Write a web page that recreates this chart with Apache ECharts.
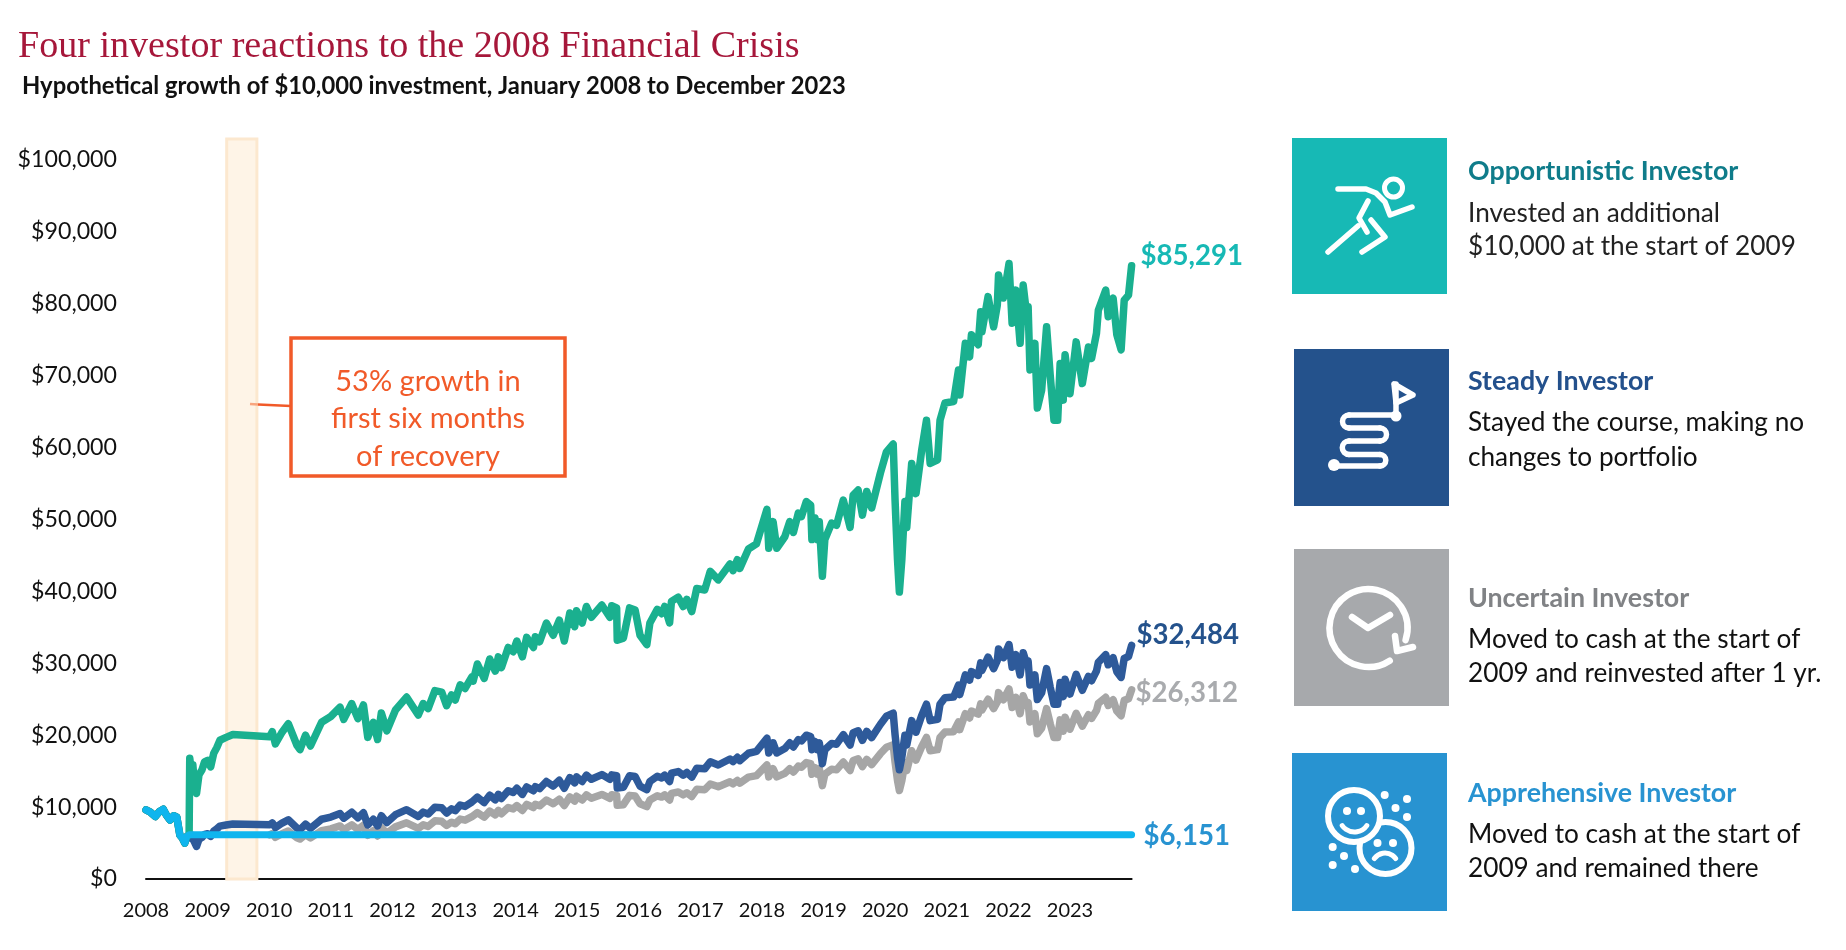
<!DOCTYPE html>
<html lang="en">
<head>
    <meta charset="UTF-8">
    <title>Four investor reactions to the 2008 Financial Crisis</title>
    <script src="https://cdn.jsdelivr.net/npm/echarts@6/dist/echarts.min.js"></script>
    <style>
        html, body {
            margin: 0;
            height: 100%;
            background: #fff;
        }
    </style>
</head>
<body>
<div id="main" style="width: 1846px;height: 950px"></div>
<script>
    //sample dates as decimal years, shared by the three invested series
    var dates = [
        2008.00, 2008.07, 2008.15, 2008.22, 2008.28, 2008.33, 2008.39, 2008.45, 2008.50, 2008.55, 2008.59, 2008.63, 2008.66, 2008.70,
        2008.71, 2008.74, 2008.76, 2008.78, 2008.82, 2008.86, 2008.91, 2008.95, 2009.00, 2009.05, 2009.10, 2009.15, 2009.20, 2009.30, 2009.41,
        2010.01, 2010.05, 2010.10, 2010.20, 2010.31, 2010.45, 2010.50, 2010.59, 2010.67, 2010.85,
        2011.00, 2011.15, 2011.21, 2011.34, 2011.44, 2011.53, 2011.60, 2011.69, 2011.76, 2011.82, 2011.91,
        2012.05, 2012.23, 2012.42, 2012.50, 2012.58, 2012.69, 2012.80, 2012.88, 2012.96,
        2013.02, 2013.10, 2013.18, 2013.29, 2013.31, 2013.38, 2013.49, 2013.58, 2013.67, 2013.72, 2013.77, 2013.88, 2013.96,
        2014.02, 2014.11, 2014.18, 2014.29, 2014.32, 2014.39, 2014.50, 2014.61, 2014.71, 2014.79, 2014.88, 2014.96, 2014.99,
        2015.08, 2015.15, 2015.23, 2015.40, 2015.53, 2015.56, 2015.64, 2015.65, 2015.75, 2015.85, 2015.94,
        2016.02, 2016.13, 2016.18, 2016.30, 2016.37, 2016.42, 2016.50, 2016.53, 2016.64, 2016.72, 2016.78, 2016.86, 2016.94,
        2017.07, 2017.16, 2017.29, 2017.48, 2017.53, 2017.60, 2017.64, 2017.78, 2017.91,
        2018.08, 2018.11, 2018.18, 2018.24, 2018.37, 2018.45, 2018.51, 2018.59, 2018.64, 2018.72, 2018.79, 2018.81, 2018.86, 2018.90, 2018.93, 2018.98,
        2019.02, 2019.13, 2019.21, 2019.32, 2019.43, 2019.48, 2019.56, 2019.63, 2019.70, 2019.78, 2019.92,
        2020.02, 2020.13, 2020.16, 2020.20, 2020.23, 2020.27, 2020.32, 2020.35, 2020.43, 2020.50, 2020.59, 2020.67, 2020.73, 2020.85, 2020.89, 2020.97,
        2021.11, 2021.19, 2021.21, 2021.30, 2021.37, 2021.40, 2021.51, 2021.55, 2021.57, 2021.67, 2021.76, 2021.82, 2021.84, 2021.92,
        2022.01, 2022.06, 2022.12, 2022.19, 2022.24, 2022.30, 2022.32, 2022.35, 2022.43, 2022.47, 2022.54, 2022.62, 2022.68, 2022.74, 2022.80, 2022.84, 2022.89, 2022.92,
        2023.00, 2023.10, 2023.20, 2023.30, 2023.35, 2023.43, 2023.46, 2023.58, 2023.62, 2023.70, 2023.76, 2023.83, 2023.88, 2023.95, 2024.00
    ];

    var opportunistic = [
        9600, 9300, 8700, 9400, 9700, 8900, 8200, 8800, 8600, 6100, 5700, 5000, 5900, 6151,
        16800, 14800, 15900, 13800, 11900, 14500, 15200, 16300, 16500, 15600, 17500, 18300, 19300, 19700, 20100,
        19800, 20500, 18800, 20300, 21600, 18600, 18000, 20000, 18500, 21800,
        22600, 23900, 22200, 24400, 22300, 24200, 19700, 21800, 19400, 23100, 20600,
        23500, 25300, 22800, 24400, 23700, 26200, 26000, 24100, 25600,
        24900, 27000, 26500, 28100, 27500, 29900, 27900, 30600, 28900, 30900, 29400, 32200, 31600,
        33100, 30900, 33600, 32200, 33700, 33000, 35600, 33900, 36000, 33100, 37000, 35100, 37300,
        35600, 37900, 36400, 38100, 36400, 38000, 37700, 33200, 33500, 37700, 37400,
        33900, 32600, 35600, 37500, 36900, 37900, 35600, 38600, 39200, 37900, 38900, 37200, 40400,
        40200, 42800, 41600, 43800, 42900, 44400, 43200, 45900, 46600,
        51400, 46000, 49700, 46000, 47600, 49700, 48200, 50900, 50400, 52500, 52000, 47200, 50200, 47200, 49700, 42100,
        47200, 49500, 49200, 52700, 48900, 53400, 54100, 50600, 53900, 51600, 56400,
        59400, 60500, 52700, 44400, 39900, 44400, 52500, 48900, 57800, 53600, 59500, 63800, 57800, 58300, 63800, 66200,
        66400, 70800, 67300, 74500, 72600, 75700, 74300, 78900, 76100, 81000, 76800, 79800, 84000, 80800,
        85600, 77300, 81900, 74500, 82600, 78200, 79600, 70800, 74500, 65500, 68000, 76800, 69900, 63800, 63800, 71700, 66600, 72900,
        67500, 74700, 68900, 74000, 72400, 75900, 79100, 81900, 78200, 80800, 75700, 73600, 80500, 81200, 85291
    ];

    var steady = [
        9600, 9300, 8700, 9400, 9700, 8900, 8200, 8800, 8600, 6100, 5700, 5000, 5900, 6151,
        6400, 5640, 6060, 5260, 4530, 5520, 5790, 6210, 6290, 5940, 6670, 6970, 7350, 7510, 7660,
        7540, 7810, 7160, 7730, 8230, 7090, 6860, 7620, 7050, 8310,
        8610, 9110, 8460, 9300, 8500, 9220, 7510, 8310, 7390, 8800, 7850,
        8950, 9640, 8690, 9300, 9030, 9980, 9910, 9180, 9750,
        9490, 10290, 10100, 10710, 10480, 11390, 10630, 11660, 11010, 11770, 11200, 12270, 12040,
        12610, 11770, 12800, 12270, 12840, 12570, 13560, 12920, 13720, 12610, 14100, 13370, 14210,
        13560, 14440, 13870, 14520, 13870, 14480, 14360, 12650, 12760, 14360, 14250,
        12920, 12420, 13560, 14290, 14060, 14440, 13560, 14710, 14940, 14440, 14820, 14170, 15390,
        15320, 16310, 15850, 16690, 16340, 16920, 16460, 17490, 17750,
        19580, 17530, 18940, 17530, 18140, 18940, 18360, 19390, 19200, 20000, 19810, 17980, 19130, 17980, 18940, 16040,
        17980, 18860, 18750, 20080, 18630, 20350, 20610, 19280, 20540, 19660, 21490,
        22630, 23050, 20080, 16920, 15200, 16920, 20000, 18630, 22020, 20420, 22670, 24310, 22020, 22210, 24310, 25220,
        25300, 26970, 25640, 28380, 27660, 28840, 28310, 30060, 28990, 30860, 29260, 30400, 32000, 30780,
        32610, 29450, 31200, 28380, 31470, 29790, 30330, 26970, 28380, 24960, 25910, 29260, 26630, 24310, 24310, 27320, 25370, 27770,
        25720, 28460, 26250, 28190, 27580, 28920, 30140, 31200, 29790, 30780, 28840, 28040, 30670, 30940, 32484
    ];

    //the uncertain investor sits in cash until the 2010.01 sample
    var uncertainStart = 2010.01;
    var uncertain = [
        6151, 6330, 5800, 6260, 6670, 5740, 5560, 6170, 5710, 6730,
        6970, 7380, 6850, 7530, 6880, 7470, 6080, 6730, 5990, 7130, 6360,
        7250, 7810, 7040, 7530, 7310, 8090, 8020, 7440, 7900,
        7680, 8330, 8180, 8670, 8490, 9230, 8610, 9440, 8920, 9540, 9070, 9940, 9750,
        10210, 9540, 10370, 9940, 10400, 10180, 10990, 10460, 11110, 10210, 11420, 10830, 11510,
        10990, 11700, 11230, 11760, 11230, 11730, 11630, 10250, 10340, 11630, 11540,
        10460, 10060, 10990, 11570, 11390, 11700, 10990, 11910, 12100, 11700, 12000, 11480, 12470,
        12410, 13210, 12840, 13520, 13240, 13700, 13330, 14160, 14380,
        15860, 14200, 15340, 14200, 14690, 15340, 14870, 15710, 15550, 16200, 16050, 14570, 15490, 14570, 15340, 12990,
        14570, 15280, 15180, 16260, 15090, 16480, 16700, 15620, 16630, 15920, 17410,
        18330, 18670, 16260, 13700, 12310, 13700, 16200, 15090, 17840, 16540, 18360, 19690, 17840, 17990, 19690, 20430,
        20490, 21850, 20770, 22990, 22400, 23360, 22930, 24350, 23480, 25000, 23700, 24630, 25920, 24930,
        26420, 23860, 25270, 22990, 25490, 24130, 24560, 21850, 22990, 20210, 20980, 23700, 21570, 19690, 19690, 22130, 20550, 22500,
        20830, 23050, 21260, 22840, 22340, 23420, 24410, 25270, 24130, 24930, 23360, 22710, 24840, 25060, 26312
    ];

    var apprehensiveDates = [2008.00, 2008.07, 2008.15, 2008.22, 2008.28, 2008.33, 2008.39, 2008.45, 2008.50, 2008.55, 2008.59, 2008.63, 2008.66, 2008.70, 2024.00];
    var apprehensive = [9600, 9300, 8700, 9400, 9700, 8900, 8200, 8800, 8600, 6100, 5700, 5000, 5900, 6151, 6151];

    //recovery window shown as the shaded band
    var recoveryBand = [2009.31, 2009.80];
    var bandTop = 102900;

    var fontName = 'Lato';

    //pair up x and y for the value axis
    function pairs(xs, ys) {
        return ys.map(function (y, i) {
            return [xs[i], y];
        });
    }

    function money(v) {
        return '$' + v.toLocaleString('en-US');
    }

    function lineSeries(name, xs, ys, color, labelColor, labelOffset, width) {
        return {
            name: name,
            type: 'line',
            data: pairs(xs, ys),
            showSymbol: false,
            symbol: 'none',
            clip: false,
            lineStyle: {color: color, width: width, join: 'round', cap: 'round'},
            endLabel: {
                show: true,
                formatter: function (p) {
                    return money(p.value[1]);
                },
                color: labelColor,
                fontFamily: fontName,
                fontWeight: 'bold',
                fontSize: 27.6,
                distance: 0,
                offset: labelOffset
            }
        };
    }

    function text(x, y, str, size, color, weight, family, align) {
        return {
            type: 'text',
            x: x,
            y: y,
            z: 20,
            style: {
                text: str,
                fill: color,
                fontSize: size,
                fontWeight: weight || 'normal',
                fontFamily: family || fontName,
                textAlign: align || 'left',
                textVerticalAlign: 'middle'
            }
        };
    }

    function square(x, y, w, h, color) {
        return {type: 'rect', z: 10, shape: {x: x, y: y, width: w, height: h}, style: {fill: color}};
    }

    function stroke(width) {
        return {fill: 'none', stroke: '#fff', lineWidth: width || 5.5, lineCap: 'round', lineJoin: 'round'};
    }

    function poly(points, width) {
        return {type: 'polyline', z: 11, shape: {points: points}, style: stroke(width)};
    }

    function ring(cx, cy, r, width, fill) {
        var st = stroke(width);
        st.fill = fill || 'none';
        return {type: 'circle', z: 11, shape: {cx: cx, cy: cy, r: r}, style: st};
    }

    function dot(cx, cy, r) {
        return {type: 'circle', z: 12, shape: {cx: cx, cy: cy, r: r}, style: {fill: '#fff'}};
    }

    function arc(cx, cy, r, from, to, width) {
        return {
            type: 'arc', z: 12,
            shape: {cx: cx, cy: cy, r: r, startAngle: from * Math.PI / 180, endAngle: to * Math.PI / 180, clockwise: true},
            style: stroke(width)
        };
    }

    var headSize = 26.8;
    var bodySize = 26.2;
    var panelText = [
        text(1468, 171, 'Opportunistic Investor', headSize, '#0F7C8A', 'bold'),
        text(1468, 214, 'Invested an additional', bodySize, '#222'),
        text(1468, 247, '$10,000 at the start of 2009', bodySize, '#222'),
        text(1468, 381, 'Steady Investor', headSize, '#23508C', 'bold'),
        text(1468, 423, 'Stayed the course, making no', bodySize, '#111'),
        text(1468, 458, 'changes to portfolio', bodySize, '#111'),
        text(1468, 598, 'Uncertain Investor', headSize, '#808285', 'bold'),
        text(1468, 640, 'Moved to cash at the start of', bodySize, '#111'),
        text(1468, 674, '2009 and reinvested after 1 yr.', bodySize, '#111'),
        text(1468, 793, 'Apprehensive Investor', headSize, '#2893D1', 'bold'),
        text(1468, 835, 'Moved to cash at the start of', bodySize, '#111'),
        text(1468, 869, '2009 and remained there', bodySize, '#111')
    ];

    var icons = [
        square(1292, 138, 155, 156, '#17B9B5'),
        ring(1393.5, 188, 9, 5),
        poly([[1338, 189], [1366, 189], [1376, 193], [1385, 202], [1390, 215], [1412, 207]]),
        poly([[1368, 201], [1359, 218], [1367, 232]]),
        poly([[1371, 220], [1385, 237], [1362, 252]]),
        poly([[1358, 226], [1328, 252]]),

        square(1294, 349, 155, 157, '#24528C'),
        poly([[1394, 384], [1413, 395], [1396, 403], [1394, 384]]),
        poly([[1396, 384], [1396, 416]]),
        dot(1396, 416, 5.5),
        poly([[1396, 415], [1349, 415]]),
        arc(1349, 421.5, 6.5, 90, 270),
        poly([[1349, 428], [1380, 428]]),
        arc(1380, 434.5, 6.5, -90, 90),
        poly([[1380, 441], [1349, 441]]),
        arc(1349, 447.7, 6.7, 90, 270),
        poly([[1349, 454.5], [1380, 454.5]]),
        arc(1380, 460.2, 5.8, -90, 90),
        poly([[1380, 466], [1334, 466]]),
        dot(1334, 465, 6),

        square(1294, 549, 155, 157, '#A7A9AC'),
        arc(1368.5, 628, 39, 57, 378, 6.5),
        poly([[1395, 636], [1397, 651], [1413, 647]], 6.5),
        poly([[1352, 617], [1368, 628], [1390, 615]], 6.5),

        square(1292, 753, 155, 158, '#2893D1'),
        ring(1385.5, 848, 26, 6),
        ring(1354, 816, 26, 6, '#2893D1'),
        dot(1347, 811, 4),
        dot(1361, 811, 4),
        arc(1354.5, 817, 15, 35, 145, 5),
        dot(1377.5, 843, 4),
        dot(1393, 843, 4),
        arc(1385, 866, 13, 215, 325, 5),
        dot(1384.7, 795, 4), dot(1407, 799, 4), dot(1395.5, 808, 4), dot(1407, 817, 4),
        dot(1332.7, 847, 4), dot(1344, 856, 4), dot(1332.7, 865, 4), dot(1355, 869, 4)
    ];

    var myChart = echarts.init(document.getElementById('main'));

    var series = [
        lineSeries('Uncertain Investor', dates.slice(dates.indexOf(uncertainStart)), uncertain, '#A6A6A6', '#A9ABAE', [4, 3], 7.5),
        lineSeries('Steady Investor', dates, steady, '#2E5A9A', '#24528C', [5, -10], 7.5),
        lineSeries('Opportunistic Investor', dates, opportunistic, '#1AB08F', '#17B9B5', [9, -10], 7.5),
        lineSeries('Apprehensive Investor', apprehensiveDates, apprehensive, '#0FB5EE', '#2893D1', [12, 1], 7)
    ];
    series[0].markArea = {
        silent: true,
        itemStyle: {color: '#FEF4E7', borderColor: '#FCE8CF', borderWidth: 3},
        data: [[{xAxis: recoveryBand[0], yAxis: 0}, {xAxis: recoveryBand[1], yAxis: bandTop}]]
    };

    var option = {
        animation: false,
        backgroundColor: '#fff',
        grid: {left: 146, right: 714.4, top: 138.4, bottom: 71},
        xAxis: {
            type: 'value',
            min: 2008,
            max: 2024,
            interval: 1,
            splitLine: {show: false},
            axisTick: {show: false},
            axisLine: {onZero: false, lineStyle: {color: '#111', width: 2}},
            axisLabel: {
                color: '#111',
                fontFamily: fontName,
                fontSize: 20,
                margin: 22,
                showMaxLabel: false,
                formatter: function (v) {
                    return String(v);
                }
            }
        },
        yAxis: {
            type: 'value',
            min: 0,
            max: 103000,
            interval: 10000,
            splitLine: {show: false},
            axisTick: {show: false},
            axisLine: {show: false},
            axisLabel: {
                color: '#111',
                fontFamily: fontName,
                fontSize: 23.2,
                margin: 29,
                padding: [2, 0, 0, 0],
                showMaxLabel: false,
                formatter: money
            }
        },
        series: series,
        graphic: [
            text(18, 47, 'Four investor reactions to the 2008 Financial Crisis', 38.1, '#A6173A', 'normal', 'Liberation Serif'),
            text(22, 86, 'Hypothetical growth of $10,000 investment, January 2008 to December 2023', 23.8, '#111', 'bold'),

            //callout for the shaded band
            {type: 'line', z: 15, shape: {x1: 250, y1: 404, x2: 258, y2: 404.5}, style: {stroke: '#F8A57E', lineWidth: 2.5}},
            {type: 'line', z: 15, shape: {x1: 258, y1: 404.5, x2: 291, y2: 406}, style: {stroke: '#F15A29', lineWidth: 2.5}},
            {type: 'rect', z: 15, shape: {x: 291, y: 338, width: 274, height: 138}, style: {fill: '#fff', stroke: '#F15A29', lineWidth: 3.5}},
            text(428, 382, '53% growth in', 29, '#F15A29', 'normal', fontName, 'center'),
            text(428, 419, 'first six months', 29, '#F15A29', 'normal', fontName, 'center'),
            text(428, 457, 'of recovery', 29, '#F15A29', 'normal', fontName, 'center')
        ].concat(icons, panelText)
    };

    myChart.setOption(option);
</script>
</body>
</html>
